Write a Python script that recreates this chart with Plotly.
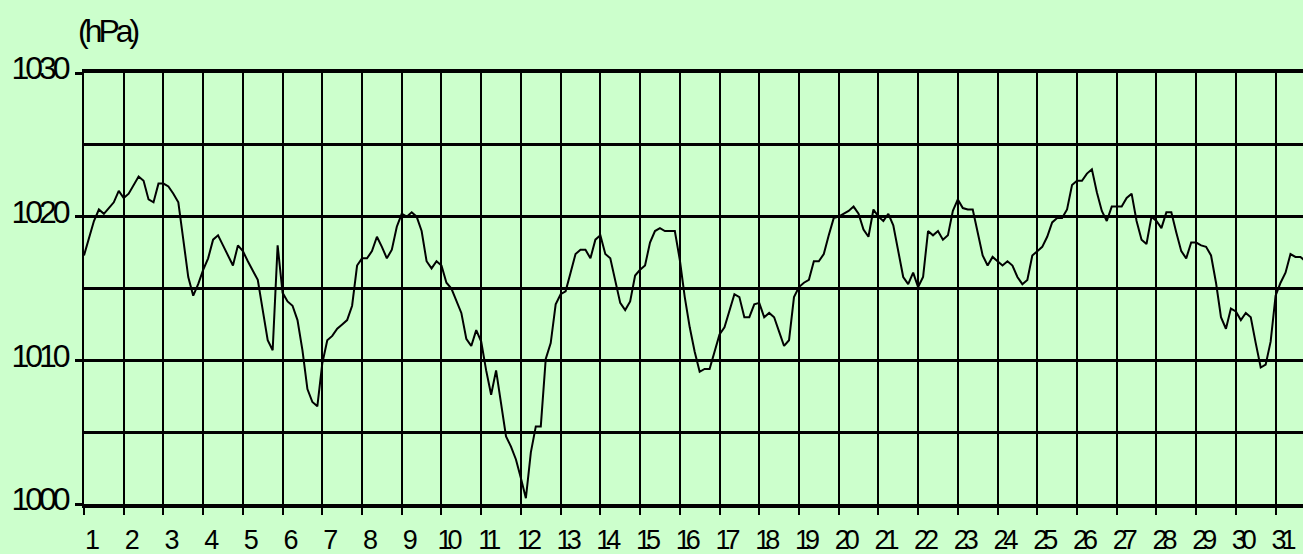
import plotly.graph_objects as go

# 3-hourly sea-level pressure (hPa), 8 observations per day, starting day 1
pressure_days_01_08 = [
    1017.3, 1018.6, 1019.7, 1020.5, 1020.2, 1020.6, 1021.0, 1021.8,
    1021.3, 1021.6, 1022.2, 1022.8, 1022.5, 1021.2, 1021.0, 1022.3,
    1022.3, 1022.1, 1021.6, 1021.0, 1018.4, 1015.8, 1014.5, 1015.3,
    1016.3, 1017.1, 1018.4, 1018.7, 1018.0, 1017.3, 1016.6, 1018.0,
    1017.6, 1016.9, 1016.2, 1015.6, 1013.5, 1011.4, 1010.7, 1018.0,
    1014.7, 1014.1, 1013.8, 1012.8, 1010.7, 1008.0, 1007.1, 1006.8,
    1009.8, 1011.4, 1011.7, 1012.2, 1012.5, 1012.8, 1013.8, 1016.6,
    1017.1, 1017.1, 1017.6, 1018.6, 1017.9, 1017.1, 1017.7, 1019.3,
]
pressure_days_09_16 = [
    1020.2, 1020.0, 1020.3, 1020.0, 1019.0, 1016.9, 1016.4, 1016.9,
    1016.6, 1015.4, 1015.0, 1014.2, 1013.3, 1011.5, 1011.0, 1012.1,
    1011.3, 1009.3, 1007.6, 1009.3, 1007.1, 1004.7, 1004.0, 1003.1,
    1001.8, 1000.4, 1003.6, 1005.4, 1005.4, 1010.1, 1011.2, 1013.9,
    1014.6, 1014.8, 1016.1, 1017.4, 1017.7, 1017.7, 1017.1, 1018.4,
    1018.7, 1017.4, 1017.1, 1015.5, 1014.0, 1013.5, 1014.1, 1015.9,
    1016.3, 1016.6, 1018.2, 1019.0, 1019.2, 1019.0, 1019.0, 1019.0,
    1017.0, 1014.4, 1012.3, 1010.6, 1009.2, 1009.4, 1009.4, 1010.6,
]
pressure_days_17_24 = [
    1011.8, 1012.3, 1013.5, 1014.6, 1014.4, 1013.0, 1013.0, 1013.9,
    1014.0, 1013.0, 1013.3, 1013.0, 1012.0, 1011.0, 1011.4, 1014.4,
    1015.1, 1015.4, 1015.6, 1016.9, 1016.9, 1017.4, 1018.7, 1019.9,
    1020.0, 1020.2, 1020.4, 1020.7, 1020.2, 1019.1, 1018.6, 1020.5,
    1020.0, 1019.7, 1020.2, 1019.4, 1017.5, 1015.8, 1015.3, 1016.1,
    1015.1, 1015.8, 1019.0, 1018.7, 1019.0, 1018.4, 1018.7, 1020.4,
    1021.2, 1020.6, 1020.5, 1020.5, 1018.9, 1017.3, 1016.6, 1017.2,
    1016.9, 1016.6, 1016.9, 1016.6, 1015.8, 1015.3, 1015.6, 1017.3,
]
pressure_days_25_31 = [
    1017.6, 1017.9, 1018.6, 1019.6, 1019.9, 1019.9, 1020.5, 1022.2,
    1022.5, 1022.5, 1023.0, 1023.3, 1021.7, 1020.4, 1019.7, 1020.7,
    1020.7, 1020.7, 1021.3, 1021.6, 1019.7, 1018.4, 1018.1, 1020.0,
    1019.7, 1019.2, 1020.3, 1020.3, 1018.9, 1017.6, 1017.1, 1018.2,
    1018.2, 1018.0, 1017.9, 1017.3, 1015.4, 1013.0, 1012.2, 1013.6,
    1013.4, 1012.8, 1013.3, 1013.0, 1011.2, 1009.5, 1009.7, 1011.3,
    1014.5, 1015.4, 1016.1, 1017.4, 1017.2, 1017.2, 1016.9,
]
obs_per_day = 8

day_ticks = list(range(1, 32))
day_labels = [str(d) for d in day_ticks]
y_ticks = [1000, 1010, 1020, 1030]
y_labels = ["1000", "1010", "1020", "1030"]
unit_label = "(hPa)"

pressure = pressure_days_01_08 + pressure_days_09_16 + pressure_days_17_24 + pressure_days_25_31
times = [1 + i / obs_per_day for i in range(len(pressure))]

BG = "#CCFFCC"
FONT = "Liberation Sans, Arial, sans-serif"

fig = go.Figure()
fig.add_trace(go.Scatter(
    x=times, y=pressure, mode="lines",
    line=dict(color="black", width=2),
    hoverinfo="skip", showlegend=False,
))

fig.update_layout(
    width=1303, height=554,
    margin=dict(l=84, r=0, t=73, b=50, autoexpand=False),
    paper_bgcolor=BG, plot_bgcolor=BG,
    font=dict(family=FONT, color="black"),
    showlegend=False,
    xaxis=dict(
        range=[1, 31.69],
        tickmode="array", tickvals=day_ticks, ticktext=day_labels,
        showgrid=True, gridcolor="black", gridwidth=2,
        showline=True, linecolor="black", linewidth=4, mirror=True,
        ticks="outside", ticklen=7, tickwidth=2, tickcolor="black",
        ticklabelshift=6, ticklabelstandoff=2,
        tickfont=dict(family=FONT, size=27, color="black"),
        zeroline=False, fixedrange=True, automargin=False,
    ),
    yaxis=dict(
        range=[1000, 1030],
        tickmode="array", tickvals=y_ticks, ticktext=y_labels,
        showgrid=True, gridcolor="black", gridwidth=3,
        minor=dict(dtick=5, tick0=1000, showgrid=True, gridcolor="black",
                   gridwidth=3, ticks=""),
        showline=True, linecolor="black", linewidth=2,
        ticks="outside", ticklen=7, tickwidth=3, tickcolor="black",
        ticklabelshift=-5, ticklabelstandoff=2,
        tickfont=dict(family=FONT, size=32, color="black"),
        zeroline=False, fixedrange=True, automargin=False,
    ),
    annotations=[dict(
        text=unit_label, xref="paper", yref="paper",
        x=-18 / 1219, y=1 + 42 / 430, xanchor="left", yanchor="middle",
        showarrow=False, font=dict(family=FONT, size=32, color="black"),
    )],
)

post = (
    "document.body.style.margin='0';document.body.style.padding='0';"
    "document.querySelectorAll('.ytick text, .annotation-text').forEach("
    "function(t){t.style.letterSpacing='-4px';});"
    "document.querySelectorAll('.xtick text').forEach("
    "function(t){t.style.letterSpacing='-5px';});"
)

fig.write_html("out.html", post_script=post,
               config={"displayModeBar": False, "staticPlot": True})
